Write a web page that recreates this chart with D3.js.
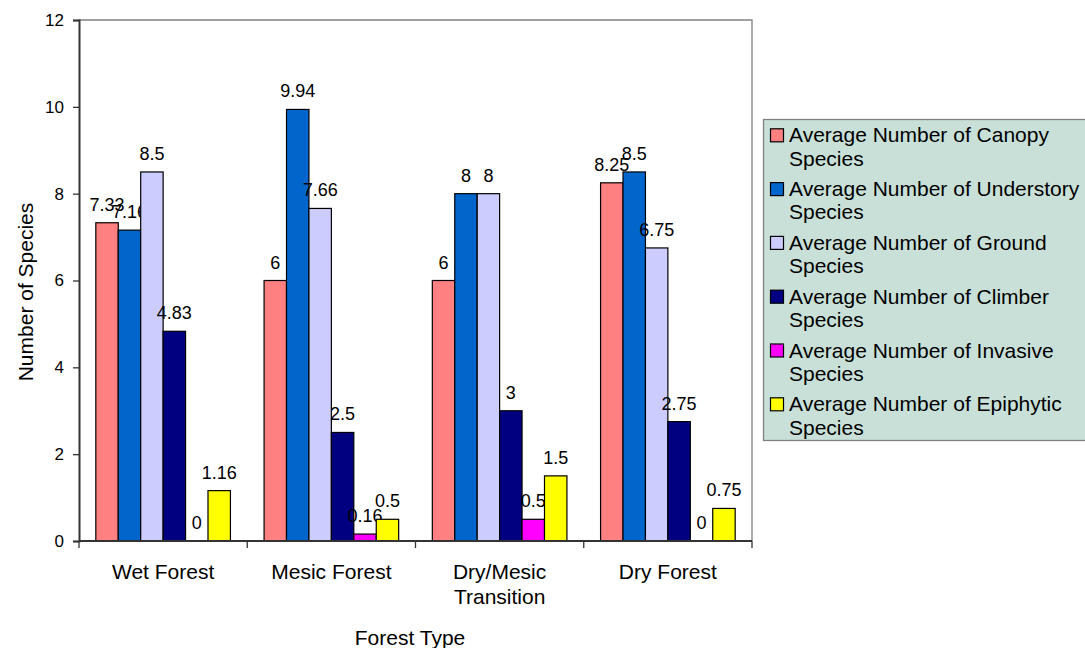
<!DOCTYPE html>
<html>
<head>
<meta charset="utf-8">
<script src="https://cdn.jsdelivr.net/npm/d3@7"></script>
<style>
  html, body { margin: 0; padding: 0; background: #fff; }
  svg { display: block; font-family: "Liberation Sans", Arial, sans-serif; }
</style>
</head>
<body>
<svg id="chart" width="1085" height="648"></svg>
<script>
// Forest types along the x axis (multi-line labels split on "\n")
const categories = ["Wet Forest", "Mesic Forest", "Dry/Mesic\nTransition", "Dry Forest"];

// Series names (legend) and their fills
const seriesNames = [
  "Average Number of Canopy Species",
  "Average Number of Understory Species",
  "Average Number of Ground Species",
  "Average Number of Climber Species",
  "Average Number of Invasive Species",
  "Average Number of Epiphytic Species"
];
const seriesColors = ["#FF8080", "#0066CC", "#CCCCFF", "#000080", "#FF00FF", "#FFFF00"];

// Values per series, one entry per forest type
const canopy     = [7.33, 6, 6, 8.25];
const understory = [7.16, 9.94, 8, 8.5];
const ground     = [8.5, 7.66, 8, 6.75];
const climber    = [4.83, 2.5, 3, 2.75];
const invasive   = [0, 0.16, 0.5, 0];
const epiphytic  = [1.16, 0.5, 1.5, 0.75];
const seriesValues = [canopy, understory, ground, climber, invasive, epiphytic];

const yTicks = [0, 2, 4, 6, 8, 10, 12];

const svg = d3.select("#chart");
const plot = { left: 79, right: 752, top: 20, bottom: 541 };

const x = d3.scaleBand().domain(categories).range([plot.left, plot.right]).padding(0);
const y = d3.scaleLinear().domain([0, 12]).range([plot.bottom, plot.top]);
// six bars per group with a gap of 1.5 bar widths
const inner = d3.scaleBand().domain(d3.range(seriesNames.length))
  .range([0, x.bandwidth()]).paddingInner(0).paddingOuter(0.75);

// plot frame (top and right)
svg.append("path")
  .attr("d", `M${plot.left},${plot.top}H${plot.right}V${plot.bottom}`)
  .attr("fill", "none").attr("stroke", "#808080").attr("stroke-width", 1.3);

// bars
const groups = svg.append("g").selectAll("g")
  .data(categories).join("g")
  .attr("transform", d => `translate(${x(d)},0)`);

groups.each(function(cat, ci) {
  const g = d3.select(this);
  seriesValues.forEach((vals, si) => {
    const v = vals[ci];
    const bx = inner(si), bw = inner.bandwidth();
    if (v > 0) {
      g.append("rect")
        .attr("x", bx).attr("y", y(v))
        .attr("width", bw).attr("height", y(0) - y(v))
        .attr("fill", seriesColors[si])
        .attr("stroke", "#000").attr("stroke-width", 1.2);
    }
    g.append("text")
      .attr("x", bx + bw / 2).attr("y", y(v) - 12)
      .attr("text-anchor", "middle")
      .attr("font-size", 18).attr("fill", "#000")
      .text(v);
  });
});

// y axis
const yAxis = svg.append("g").attr("transform", `translate(${plot.left},0)`)
  .call(d3.axisLeft(y).tickValues(yTicks).tickSize(6).tickPadding(9).tickFormat(d3.format("d")));
yAxis.select(".domain").attr("stroke", "#333").attr("stroke-width", 2);
yAxis.selectAll(".tick line").attr("stroke", "#333").attr("stroke-width", 1.3);
yAxis.selectAll(".tick text").attr("font-size", 17).attr("fill", "#000")
  .attr("font-family", "Liberation Sans, Arial, sans-serif");

// x axis: ticks on category boundaries
const xAxis = svg.append("g").attr("transform", `translate(0,${plot.bottom})`);
xAxis.append("line")
  .attr("x1", plot.left).attr("x2", plot.right)
  .attr("stroke", "#333").attr("stroke-width", 2);
const edges = categories.map(c => x(c)).concat([plot.right]);
xAxis.selectAll("line.tick").data(edges).join("line")
  .attr("class", "tick")
  .attr("x1", d => d).attr("x2", d => d)
  .attr("y1", 0).attr("y2", 7)
  .attr("stroke", "#333").attr("stroke-width", 1.3);

const catLabels = svg.append("g").selectAll("text").data(categories).join("text")
  .attr("x", d => x(d) + x.bandwidth() / 2)
  .attr("y", 579)
  .attr("text-anchor", "middle")
  .attr("font-size", 21).attr("fill", "#000");
catLabels.each(function(d) {
  const t = d3.select(this);
  d.split("\n").forEach((line, i) => {
    t.append("tspan").attr("x", x(d) + x.bandwidth() / 2)
      .attr("dy", i === 0 ? 0 : 25).text(line);
  });
});

// axis titles
svg.append("text")
  .attr("x", 410).attr("y", 645)
  .attr("text-anchor", "middle").attr("font-size", 21).attr("fill", "#000")
  .text("Forest Type");

svg.append("text")
  .attr("transform", "translate(33,292) rotate(-90)")
  .attr("text-anchor", "middle").attr("font-size", 21).attr("fill", "#000")
  .text("Number of Species");

// legend
const legend = svg.append("g");
legend.append("rect")
  .attr("x", 763.5).attr("y", 119.5).attr("width", 340).attr("height", 321)
  .attr("fill", "#C9E0D8").attr("stroke", "#808080").attr("stroke-width", 1.3);

const items = legend.selectAll("g.item").data(seriesNames).join("g")
  .attr("class", "item")
  .attr("transform", (d, i) => `translate(0,${142.3 + i * 53.8})`);
items.append("rect")
  .attr("x", 770.5).attr("y", -13.5).attr("width", 13).attr("height", 13)
  .attr("fill", (d, i) => seriesColors[i])
  .attr("stroke", "#000").attr("stroke-width", 1.2);
items.append("text")
  .attr("x", 789).attr("y", 0)
  .attr("font-size", 21).attr("fill", "#000")
  .each(function(d) {
    const t = d3.select(this);
    const cut = d.lastIndexOf(" ");
    t.append("tspan").attr("x", 789).attr("dy", 0).text(d.slice(0, cut));
    t.append("tspan").attr("x", 789).attr("dy", 23.4).text(d.slice(cut + 1));
  });
</script>
</body>
</html>
